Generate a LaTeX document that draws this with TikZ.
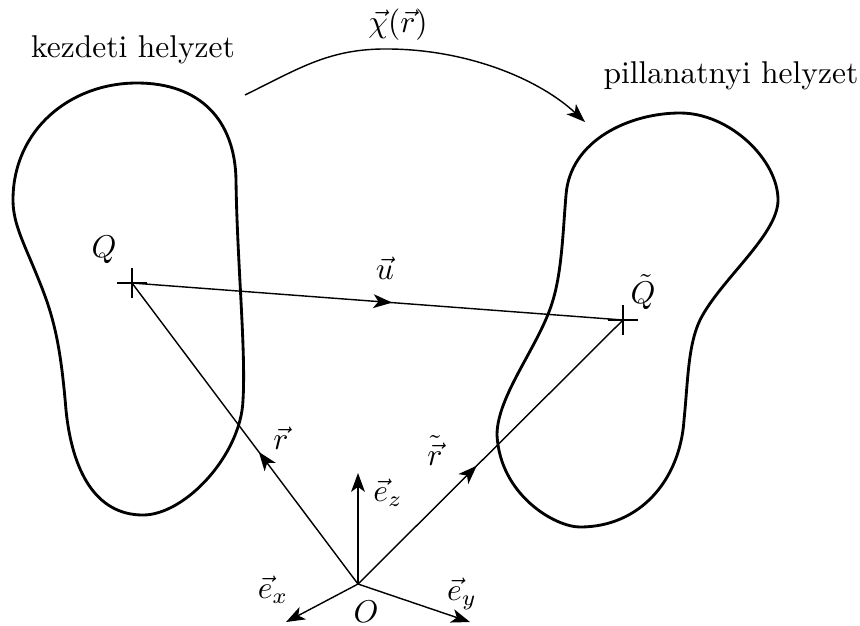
\documentclass[tikz,border=0pt]{standalone}
\usetikzlibrary{arrows.meta,decorations.markings}
\begin{document}
\begin{tikzpicture}[x=0.3175pt,y=-0.3175pt,
  blob/.style={line width=0.9pt, line join=round},
  thinline/.style={line width=0.45pt},
  tipend/.style={-{Stealth[length=6pt,width=4.4pt,inset=1.6pt]}},
  crossmark/.style={line width=0.9pt},
  midarrow/.style={postaction={decorate},decoration={markings,mark=at position #1 with {\arrow{Stealth[length=6pt,width=4.4pt,inset=1.6pt]}}}},
  lbl/.style={inner sep=0pt}]
\useasboundingbox (0,0) rectangle (860,625);

% initial body
\draw[blob] (13,200) .. controls (13,130) and (70,83) .. (137,83)
  .. controls (200,83) and (235,120) .. (236,180)
  .. controls (237,260) and (246,350) .. (243,400)
  .. controls (241,455) and (185,515) .. (143,515)
  .. controls (95,515) and (72,470) .. (66,410)
  .. controls (61,350) and (55,320) .. (40,283)
  .. controls (25,245) and (13,225) .. (13,200) -- cycle;

% current body
\draw[blob] (680,113) .. controls (730,113) and (778,160) .. (778,200)
  .. controls (778,235) and (720,280) .. (700,320)
  .. controls (688,345) and (688,380) .. (684,420)
  .. controls (680,480) and (640,527) .. (580,527)
  .. controls (555,527) and (500,495) .. (497,435)
  .. controls (497,395) and (540,345) .. (553,300)
  .. controls (562,270) and (563,230) .. (566,195)
  .. controls (570,140) and (630,113) .. (680,113) -- cycle;

% points
\coordinate (Q) at (132,283);
\coordinate (Qt) at (623,320);
\coordinate (O) at (358,584);
\coordinate (ex) at (286,622);
\coordinate (ey) at (470,622);
\coordinate (ez) at (358,473);
\coordinate (chiA) at (245,95);
\coordinate (chiM) at (390,49);
\coordinate (chiB) at (585,122);

% vectors
\draw[thinline, midarrow=0.53] (Q) -- (Qt);
\draw[thinline, midarrow=0.44] (O) -- (Q);
\draw[thinline, midarrow=0.45] (O) -- (Qt);
\draw[thinline, tipend] (O) -- (ex);
\draw[thinline, tipend] (O) -- (ey);
\draw[thinline, tipend] (O) -- (ez);
\draw[thinline, tipend] (chiA) .. controls (300,68) and (330,48) .. (chiM)
  .. controls (470,50) and (540,80) .. (chiB);

% crosses
\draw[crossmark] (Q) +(-15,0) -- +(15,0) (Q) +(0,-15) -- +(0,15);
\draw[crossmark] (Qt) +(-15,0) -- +(15,0) (Qt) +(0,-15) -- +(0,15);

% labels
\node[lbl] (tkez) at (133,50) {kezdeti helyzet};
\node[lbl] (tpil) at (731,76) {pillanatnyi helyzet};
\node[lbl] (tchi) at (398,25) {$\vec{\chi}(\vec{r})$};
\node[lbl] (tQ) at (104,250) {$Q$};
\node[lbl] (tQt) at (643,292) {$\tilde{Q}$};
\node[lbl] (tu) at (385,268) {$\vec{u}$};
\node[lbl] (tr) at (281,438) {$\vec{r}$};
\node[lbl] (trt) at (435,450) {$\tilde{\vec{r}}$};
\node[lbl] (tez) at (388,493) {$\vec{e}_z$};
\node[lbl] (tex) at (273,590) {$\vec{e}_x$};
\node[lbl] (tey) at (462,594) {$\vec{e}_y$};
\node[lbl] (tO) at (366,612) {$O$};
\end{tikzpicture}
\end{document}
